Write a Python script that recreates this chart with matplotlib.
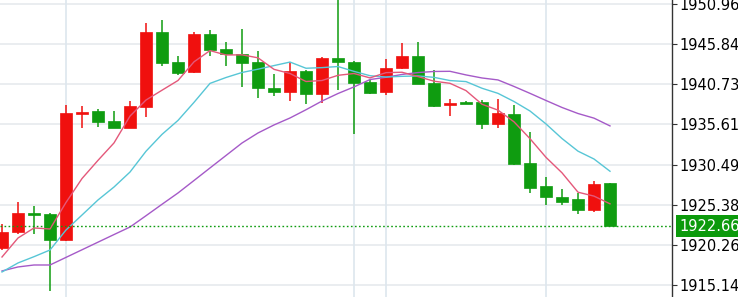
import matplotlib
matplotlib.use("Agg")
import matplotlib.pyplot as plt

# OHLC candles, oldest first
opens = [1919.86, 1921.86, 1924.28, 1924.19, 1920.88, 1937.00, 1937.32, 1936.05, 1935.12, 1937.79,
         1947.35, 1943.53, 1942.25, 1947.10, 1945.26, 1944.55, 1943.61, 1940.29, 1939.78, 1942.46,
         1939.49, 1944.11, 1943.61, 1941.06, 1939.78, 1942.76, 1944.37, 1940.85, 1938.09, 1938.43,
         1938.47, 1935.63, 1936.90, 1930.65, 1927.76, 1926.40, 1926.10, 1924.70, 1928.10]
highs = [1922.92, 1925.76, 1925.21, 1924.30, 1938.09, 1938.02, 1937.58, 1937.36, 1938.63, 1948.58,
         1948.92, 1944.33, 1947.43, 1947.65, 1946.15, 1947.74, 1945.01, 1942.04, 1943.61, 1942.50,
         1944.24, 1951.80, 1943.70, 1941.27, 1943.91, 1945.95, 1946.15, 1942.55, 1938.85, 1938.63,
         1938.72, 1938.85, 1938.09, 1934.68, 1928.87, 1927.34, 1926.83, 1928.40, 1928.20]
lows = [1919.60, 1921.60, 1921.64, 1914.38, 1920.80, 1935.15, 1935.32, 1935.15, 1935.10, 1936.59,
        1943.06, 1941.91, 1942.20, 1944.37, 1943.10, 1940.34, 1939.02, 1939.23, 1938.63, 1938.21,
        1938.38, 1940.00, 1934.39, 1939.49, 1939.36, 1942.70, 1940.70, 1937.87, 1936.68, 1938.15,
        1935.03, 1935.19, 1930.50, 1926.83, 1925.34, 1925.34, 1924.15, 1924.41, 1922.60]
closes = [1921.90, 1924.36, 1924.06, 1920.88, 1937.10, 1937.13, 1935.96, 1935.19, 1937.96, 1947.35,
          1943.40, 1942.13, 1947.10, 1945.10, 1944.59, 1943.48, 1940.21, 1939.78, 1942.46, 1939.49,
          1944.11, 1943.53, 1940.93, 1939.65, 1942.84, 1944.37, 1940.76, 1938.00, 1938.28, 1938.21,
          1935.63, 1937.03, 1930.53, 1927.54, 1926.32, 1925.76, 1924.70, 1928.02, 1922.66]

# moving average lines
ma5 = [1918.71, 1921.13, 1922.41, 1922.28, 1925.66, 1928.71, 1931.03, 1933.25, 1936.67, 1938.72,
       1939.97, 1941.21, 1943.59, 1945.02, 1944.46, 1944.48, 1944.10, 1942.63, 1942.10, 1941.08,
       1941.21, 1941.87, 1942.10, 1941.54, 1942.21, 1942.26, 1941.71, 1941.12, 1940.85, 1939.92,
       1938.18, 1937.43, 1935.94, 1933.79, 1931.41, 1929.44, 1926.97, 1926.47, 1925.49]
ma10 = [1916.80, 1917.95, 1918.75, 1919.60, 1922.15, 1924.06, 1925.98, 1927.63, 1929.54, 1932.19,
        1934.34, 1936.12, 1938.42, 1940.84, 1941.59, 1942.23, 1942.65, 1943.11, 1943.56, 1942.77,
        1942.85, 1942.99, 1942.37, 1941.82, 1941.65, 1941.74, 1941.79, 1941.61, 1941.20, 1941.07,
        1940.22, 1939.57, 1938.53, 1937.32, 1935.67, 1933.81, 1932.20, 1931.20, 1929.64]
ma20 = [1916.93, 1917.44, 1917.69, 1917.69, 1918.66, 1919.63, 1920.60, 1921.57, 1922.53, 1923.97,
        1925.43, 1926.87, 1928.46, 1930.06, 1931.65, 1933.24, 1934.52, 1935.54, 1936.43, 1937.48,
        1938.59, 1939.55, 1940.39, 1941.33, 1941.62, 1941.98, 1942.22, 1942.36, 1942.38, 1941.92,
        1941.53, 1941.28, 1940.45, 1939.57, 1938.66, 1937.77, 1937.00, 1936.41, 1935.42]

price_ticks = [1915.14, 1920.26, 1925.38, 1930.49, 1935.61, 1940.73, 1945.84, 1950.96]
session_marks = [4, 22, 24, 34]
last_price = 1922.66

UP = '#f0100e'
DOWN = '#0f9c10'

fig = plt.figure(figsize=(7.38, 2.97), dpi=100)
ax = fig.add_axes([0, 0, 672 / 738, 1])

x = list(range(len(closes)))

# grid
for t in price_ticks:
    ax.axhline(t, color='#e6eaee', lw=1.2, zorder=0)
for m in session_marks:
    ax.axvline(m, color='#dde6ee', lw=1.2, zorder=0)

# candles
for i in x:
    col = UP if closes[i] >= opens[i] else DOWN
    ax.vlines(i, lows[i], highs[i], color=col, lw=1.1, zorder=2)
    lo = min(opens[i], closes[i])
    h = max(abs(closes[i] - opens[i]), 0.15)
    ax.bar(i, h, bottom=lo, width=0.72, color=col, edgecolor=col, lw=0.5, zorder=3)

# moving averages
ax.plot(x, ma20, color='#a55ac8', lw=1.0, zorder=4)
ax.plot(x, ma10, color='#57c6d6', lw=1.0, zorder=4)
ax.plot(x, ma5, color='#e4587a', lw=1.0, zorder=4)

# last price line + label
ax.axhline(last_price, color=DOWN, lw=1.0, dashes=(1.2, 1.7), zorder=5)

ax.set_xlim(-0.125, 41.875)
ax.set_ylim(1913.61, 1951.47)

for s in ['top', 'left', 'bottom']:
    ax.spines[s].set_visible(False)
ax.spines['right'].set_color('#333333')
ax.spines['right'].set_linewidth(1.0)

ax.set_xticks([])
ax.yaxis.tick_right()
ax.set_yticks(price_ticks)
ax.set_yticklabels([f'{t:.2f}' for t in price_ticks])
ax.tick_params(axis='y', length=3.5, width=0.8, color='#333333', pad=1.5,
               labelsize=10.5, labelcolor='#000000')

ax.text(1 + 7 / 672, last_price, f'{last_price:.2f}', transform=ax.get_yaxis_transform(),
        ha='left', va='center', fontsize=10.5, color='white', zorder=10, clip_on=False,
        bbox=dict(boxstyle='square,pad=0.22', fc='#0c9a0c', ec='none'))

fig.savefig('out.png', dpi=100)
